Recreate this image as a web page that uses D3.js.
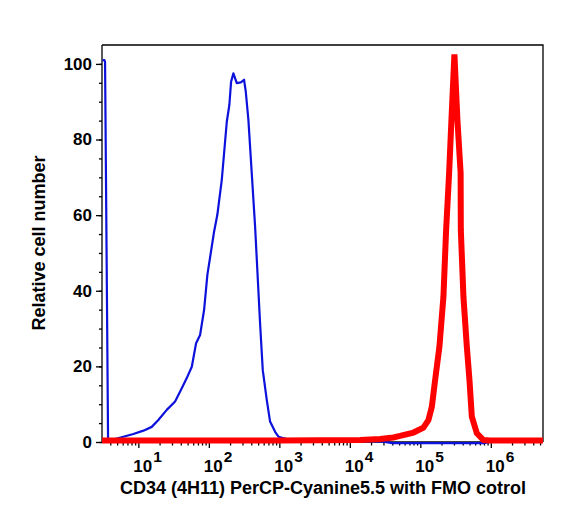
<!DOCTYPE html>
<html>
<head>
<meta charset="utf-8">
<script src="https://cdn.jsdelivr.net/npm/d3@7"></script>
<style>
  body { margin: 0; background: #fff; }
  svg text { font-family: "Liberation Sans", Arial, Helvetica, sans-serif; font-weight: bold; fill: #000; }
  .axis path, .axis line { stroke: #000; stroke-width: 1.3px; }
</style>
</head>
<body>
<svg id="chart"></svg>
<script>
'use strict'

// FMO control (blue) - fluorescence value / relative count
const blueX = [3.1, 3.3, 3.37, 3.72, 4.3, 4.67, 6.13, 8.5, 11.8, 15.5, 19.2, 25.3, 33.2, 41.3, 48.6, 57.3, 65.9, 75.1, 85.6, 95.3,
               118.6, 132, 152.6, 179.7, 195.6, 206.8, 223, 249, 284, 316, 334, 364, 406, 453, 533, 582, 664, 739, 871, 971, 1276,
               3000, 10000, 30000, 40000, 800000, 1000000, 5500000]
const blueY = [101, 101, 100.5, 0.4, 0.3, 0.8, 1.4, 2.1, 3.0, 4.0, 5.8, 8.5, 10.7, 14.2, 16.9, 19.9, 26.1, 28.3, 34.9, 44.2,
               55.6, 60.1, 69.3, 84.7, 89.2, 95.3, 97.5, 94.9, 95.1, 95.8, 92.7, 85.2, 71.1, 57.0, 31.4, 19.0, 11.1, 5.4, 2.7, 1.4, 0.8,
               0.3, 0.2, 0.1, -0.3, -0.3, 0.1, 0.1]

// CD34 stained (red)
const redX = [3.05, 1000, 14000, 26900, 41500, 51600, 79800, 110600, 130300, 145600, 162200, 186600, 212700, 232300, 256300, 276300,
              304600, 336000, 373000, 375500, 409000, 457000, 498000, 538000, 634000, 786000, 980000, 5500000]
const redY = [0.4, 0.4, 0.5, 0.8, 1.2, 1.6, 2.5, 3.8, 5.8, 9.3, 16.4, 25.2, 38.4, 56.1, 71.2, 85.2,
              102.5, 85.2, 71.2, 56.1, 38.4, 25.2, 16.4, 6.7, 2.3, 0.5, 0.4, 0.4]

const xDomain = [3.05, 5500000]
const xExponents = [1, 2, 3, 4, 5, 6]
const yMajorTicks = [0, 20, 40, 60, 80, 100]
const yMax = 105

const xTitle = 'CD34 (4H11) PerCP-Cyanine5.5 with FMO cotrol'
const yTitle = 'Relative cell number'

const width = 564, height = 514
const plot = {left: 102, right: 543, top: 45, bottom: 442}

const svg = d3.select('#chart').attr('width', width).attr('height', height)

const x = d3.scaleLog().domain(xDomain).range([plot.left, plot.right])
const y = d3.scaleLinear().domain([0, yMax]).range([plot.bottom, plot.top])

// minor x ticks: 2..9 of every decade inside the domain
const xMinor = []
for (let e = 0; e <= 6; e++) {
  for (let m = 2; m <= 9; m++) {
    const v = m * Math.pow(10, e)
    if (v >= xDomain[0] && v <= xDomain[1]) xMinor.push(v)
  }
}
const xMajor = xExponents.map((e) => Math.pow(10, e))

// frame (top and right)
svg.append('path')
  .attr('d', `M${plot.left},${plot.top}H${plot.right}V${plot.bottom}`)
  .attr('fill', 'none').attr('stroke', '#000').attr('stroke-width', 1.3)

// y axis
svg.append('g').attr('class', 'axis')
  .attr('transform', `translate(${plot.left},0)`)
  .call(d3.axisLeft(y).tickValues(d3.range(0, 101, 5)).tickSize(3).tickFormat(''))
  .call((g) => g.select('.domain').attr('d', `M0,${plot.top}V${plot.bottom}`))
svg.append('g').attr('class', 'axis')
  .attr('transform', `translate(${plot.left},0)`)
  .call(d3.axisLeft(y).tickValues(yMajorTicks).tickSize(6).tickPadding(4))
  .call((g) => g.select('.domain').remove())
  .call((g) => g.selectAll('text').style('font-size', '17px'))

// x axis
svg.append('g').attr('class', 'axis')
  .attr('transform', `translate(0,${plot.bottom})`)
  .call(d3.axisBottom(x).tickValues(xMinor).tickSize(3.5).tickFormat(''))
  .call((g) => g.select('.domain').attr('d', `M${plot.left},0H${plot.right}`))
svg.append('g').attr('class', 'axis')
  .attr('transform', `translate(0,${plot.bottom})`)
  .call(d3.axisBottom(x).tickValues(xMajor).tickSize(6).tickFormat(''))
  .call((g) => g.select('.domain').remove())

// x tick labels as 10 with superscript exponent
const xl = svg.append('g').selectAll('text')
  .data(xExponents)
  .enter().append('text')
  .attr('x', (e) => x(Math.pow(10, e)) - 5)
  .attr('y', 472)
  .style('font-size', '17px')
xl.append('tspan').text('10')
xl.append('tspan').text((e) => e).attr('dx', 1).attr('dy', -10.5).style('font-size', '15.5px')

// curves
const line = d3.line().x((d) => x(d[0])).y((d) => y(d[1]))

svg.append('path')
  .datum(d3.zip(blueX, blueY))
  .attr('d', line)
  .attr('fill', 'none')
  .attr('stroke', '#0c12dc')
  .attr('stroke-width', 2.2)
  .attr('stroke-linejoin', 'round')

svg.append('path')
  .datum(d3.zip(redX, redY))
  .attr('d', line)
  .attr('fill', 'none')
  .attr('stroke', '#ff0000')
  .attr('stroke-width', 6)
  .attr('stroke-linejoin', 'miter')
  .attr('stroke-miterlimit', 3)

// titles
svg.append('text')
  .attr('x', 323).attr('y', 494)
  .attr('text-anchor', 'middle')
  .style('font-size', '18px')
  .text(xTitle)

svg.append('text')
  .attr('transform', 'translate(45,243) rotate(-90)')
  .attr('text-anchor', 'middle')
  .style('font-size', '18px')
  .text(yTitle)
</script>
</body>
</html>
